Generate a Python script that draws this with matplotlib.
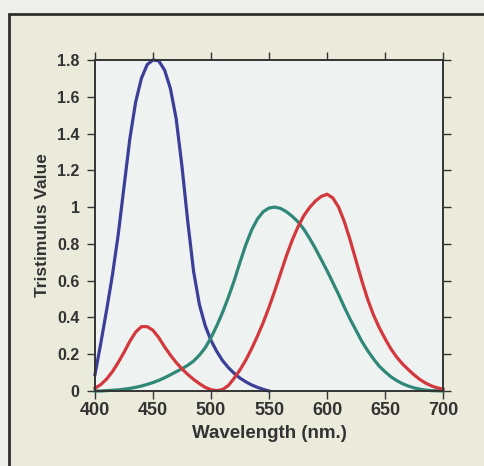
import numpy as np
import matplotlib.pyplot as plt
from matplotlib.patches import Rectangle
from matplotlib.ticker import FuncFormatter

plt.rcParams['font.family'] = ['Liberation Sans', 'DejaVu Sans']

# wavelengths (nm), 5 nm steps
wavelength = list(range(400, 705, 5))

# blue curve only runs to 550 nm
blue = [0.09, 0.26, 0.44, 0.63, 0.85, 1.11, 1.37, 1.57, 1.70, 1.775,
        1.80, 1.795, 1.745, 1.645, 1.48, 1.22, 0.92, 0.65, 0.47, 0.355,
        0.275, 0.215, 0.165, 0.127, 0.096, 0.07, 0.05, 0.033, 0.02, 0.009,
        0.0]

green = [0.0, 0.0, 0.002, 0.004, 0.006, 0.01, 0.014, 0.02, 0.027, 0.036,
         0.046, 0.058, 0.072, 0.088, 0.105, 0.121, 0.14, 0.163, 0.195, 0.235,
         0.29, 0.355, 0.428, 0.51, 0.60, 0.70, 0.795, 0.875, 0.935, 0.975,
         0.995, 1.0, 0.993, 0.975, 0.95, 0.92, 0.88, 0.83, 0.775, 0.715,
         0.655, 0.59, 0.525, 0.455, 0.39, 0.33, 0.27, 0.22, 0.175, 0.135,
         0.105, 0.078, 0.057, 0.04, 0.027, 0.017, 0.01, 0.005, 0.002, 0.001,
         0.0]

red = [0.015, 0.035, 0.065, 0.105, 0.155, 0.21, 0.27, 0.32, 0.35, 0.35,
       0.33, 0.29, 0.24, 0.195, 0.155, 0.12, 0.09, 0.063, 0.04, 0.02,
       0.007, 0.002, 0.008, 0.03, 0.07, 0.115, 0.168, 0.23, 0.298, 0.372,
       0.455, 0.545, 0.64, 0.735, 0.82, 0.893, 0.953, 0.998, 1.033, 1.058,
       1.07, 1.05, 1.0, 0.92, 0.82, 0.71, 0.60, 0.50, 0.415, 0.345,
       0.285, 0.23, 0.185, 0.148, 0.117, 0.088, 0.063, 0.043, 0.028, 0.017,
       0.01]

xticks = [400, 450, 500, 550, 600, 650, 700]
yticks = [0, 0.2, 0.4, 0.6, 0.8, 1.0, 1.2, 1.4, 1.6, 1.8]

ink = '#333333'

fig = plt.figure(figsize=(4.84, 4.66), dpi=100)
fig.patch.set_facecolor('#eeefeb')

# beige panel with a dark frame (runs off right and bottom edges)
panel = Rectangle((9 / 484, -0.05), 1.1, (466 - 14) / 466 + 0.05,
                  transform=fig.transFigure, facecolor='#ebebdb',
                  edgecolor='#2e2e2e', linewidth=2.0, zorder=-5)
fig.add_artist(panel)

ax = fig.add_axes([95 / 484, 75 / 466, 348 / 484, 331 / 466])
ax.set_zorder(2)
ax.set_facecolor('#eef2f1')

ax.plot(wavelength[:len(blue)], blue, color='#3b3f98', lw=2.3,
        clip_on=False, solid_joinstyle='round')
ax.plot(wavelength, green, color='#2f8877', lw=2.3,
        clip_on=False, solid_joinstyle='round')
ax.plot(wavelength, red, color='#d2383c', lw=2.3,
        clip_on=False, solid_joinstyle='round')

ax.set_xlim(400, 700)
ax.set_ylim(0, 1.8)
ax.set_xticks(xticks)
ax.set_yticks(yticks)
ax.yaxis.set_major_formatter(FuncFormatter(lambda v, p: f'{v:g}'))

for s in ax.spines.values():
    s.set_color(ink)
    s.set_linewidth(1.4)

ax.tick_params(direction='out', length=6, width=1.0, color=ink,
               top=True, right=True, labelcolor=ink)
ax.tick_params(axis='y', labelsize=11.5, pad=5)
ax.tick_params(axis='x', labelsize=13, pad=2)
for lab in ax.get_xticklabels() + ax.get_yticklabels():
    lab.set_fontweight('bold')

ax.set_xlabel('Wavelength (nm.)', fontsize=13.5, fontweight='bold',
              color=ink, labelpad=4)
ax.set_ylabel('Tristimulus Value', fontsize=12.5, fontweight='bold',
              color=ink, labelpad=5)

fig.savefig('out.png', dpi=100, facecolor=fig.get_facecolor())
